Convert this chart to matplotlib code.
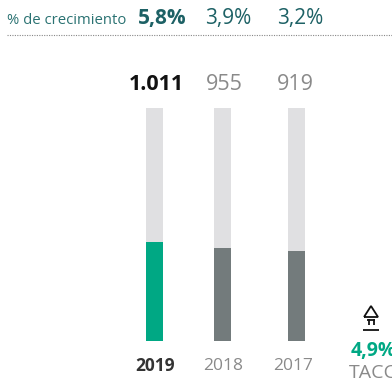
import matplotlib.pyplot as plt

plt.rcParams['font.family'] = ['Open Sans', 'DejaVu Sans']

years = ['2019', '2018', '2017']
values = [1011, 955, 919]
value_labels = ['1.011', '955', '919']
growth = ['5,8%', '3,9%', '3,2%']
cagr = '4,9%'

GREEN = '#00a884'
DARK = '#737b7c'
TRACK = '#e0e0e2'
TEAL = '#1d6165'
GREY = '#8a8a8a'

W, H = 392, 383
fig = plt.figure(figsize=(W / 100, H / 100), dpi=100)


def px(x, y):
    # pixel position (from top-left) -> figure fraction
    return x / W, 1 - y / H


# bar area: from y=108px down to y=341px
ax = fig.add_axes([0, (H - 341) / H, 1, 233 / H])
ymax = 2380
ax.set_xlim(0, W)
ax.set_ylim(0, ymax)
ax.axis('off')

xpos = [155, 222.5, 296.5]
colors = [GREEN, DARK, DARK]
ax.bar(xpos, [ymax] * 3, width=17, color=TRACK)
ax.bar(xpos, values, width=17, color=colors)

# value labels above the bars
for i, (x, lab) in enumerate(zip([156.5, 224, 295], value_labels)):
    fig.text(*px(x, 85), lab, ha='center', va='center', fontsize=15.5,
             color='#111111' if i == 0 else GREY,
             fontweight='bold' if i == 0 else 'normal')

# year labels below
for i, (x, y) in enumerate(zip([155, 223, 293], years)):
    fig.text(*px(x, 366), y, ha='center', va='center', fontsize=12.5,
             color='#333333' if i == 0 else GREY,
             fontweight='bold' if i == 0 else 'normal')

# growth row on top
fig.text(*px(7, 24), '% de crecimiento', ha='left', va='baseline',
         fontsize=10.7, color='#2a7272')
for i, (x, g) in enumerate(zip([138, 205, 277], growth)):
    fig.text(*px(x, 24), g, ha='left', va='baseline', fontsize=15,
             color=TEAL, fontweight='bold' if i == 0 else 'normal')

fig.add_artist(plt.Line2D([7 / W, 1], [1 - 35 / H] * 2, color='#888888',
                          lw=0.8, ls=(0, (1, 1.2))))

# CAGR arrow icon
k = dict(color='#111111', lw=1.3, solid_capstyle='butt')
tri_x = [364, 371, 378, 364]
tri_y = [317, 306, 317, 317]
fig.add_artist(plt.Line2D([x / W for x in tri_x], [1 - y / H for y in tri_y],
                          solid_joinstyle='miter', **k))
for sx in (368.5, 373.5):
    fig.add_artist(plt.Line2D([sx / W] * 2, [1 - 319 / H, 1 - 325 / H], **k))
fig.add_artist(plt.Line2D([367 / W, 375 / W], [1 - 319.5 / H] * 2, **k))
fig.add_artist(plt.Line2D([363 / W, 379 / W], [1 - 329.5 / H] * 2, **k))

fig.text(*px(350.5, 351), cagr, ha='left', va='center', fontsize=14,
         color=GREEN, fontweight='bold')
fig.text(*px(349, 373), 'TACC', ha='left', va='center', fontsize=14,
         color=GREY)

fig.savefig('out.png', dpi=100)
